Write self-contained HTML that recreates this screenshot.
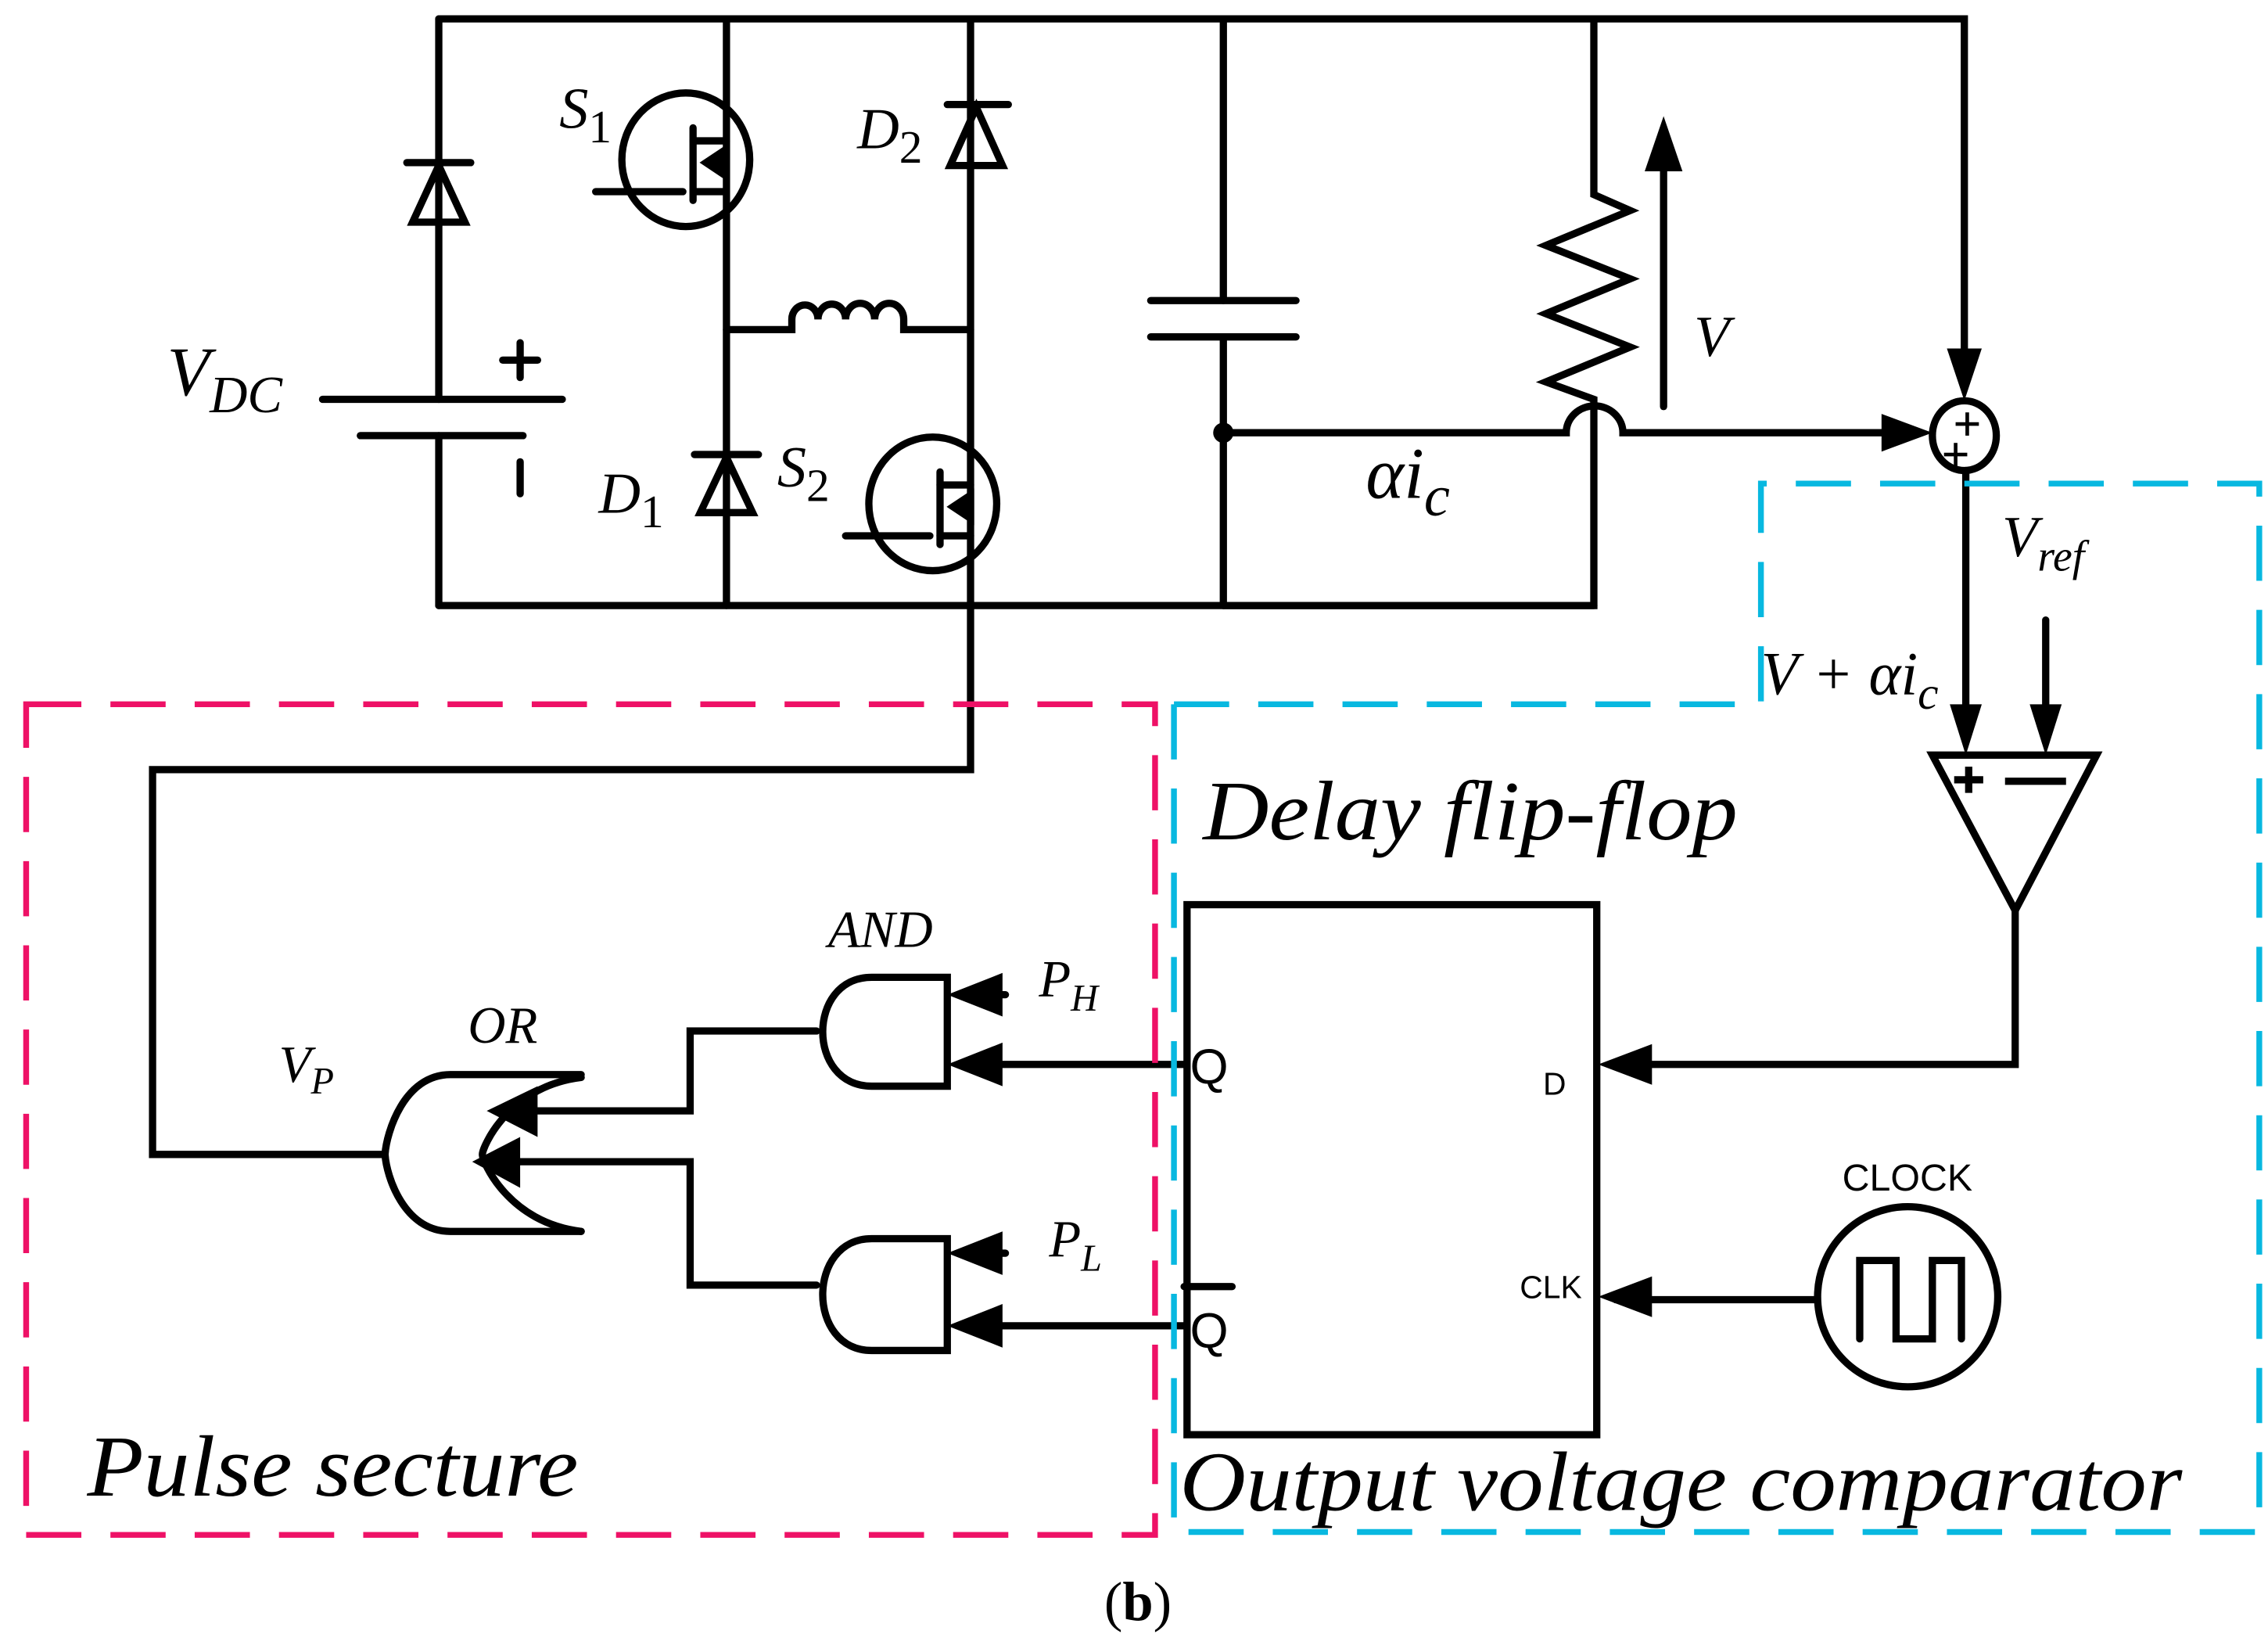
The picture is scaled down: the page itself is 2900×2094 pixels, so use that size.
<!DOCTYPE html>
<html><head><meta charset="utf-8"><style>
html,body{margin:0;padding:0;background:#fff;}
svg{display:block;}
text{font-family:"Liberation Serif",serif;font-style:italic;fill:#000;}
.s{font-family:"Liberation Sans",sans-serif;font-style:normal;}
.n{font-style:normal;}
</style></head><body>
<svg width="2900" height="2094" viewBox="0 0 1561 1128" preserveAspectRatio="none" xmlns="http://www.w3.org/2000/svg">
<g stroke="#000" stroke-width="5" fill="none" stroke-linecap="round" stroke-linejoin="miter">
<polyline points="302,13 1352,13 1352,255"/>
<line x1="302" y1="13" x2="302" y2="275"/>
<line x1="222" y1="275" x2="387" y2="275"/>
<line x1="248" y1="300" x2="360" y2="300"/>
<line x1="302" y1="300" x2="302" y2="417"/>
<line x1="358" y1="318" x2="358" y2="340"/>
<line x1="346" y1="248" x2="370" y2="248"/><line x1="358" y1="236" x2="358" y2="260"/>
<line x1="280" y1="112" x2="324" y2="112"/>
<polygon points="302,114 284,153 320,153"/>
<line x1="302" y1="417" x2="1097" y2="417"/>
<line x1="500" y1="13" x2="500" y2="417"/>
<line x1="478" y1="313" x2="522" y2="313"/>
<polygon points="500,315 482,353 518,353"/>
<ellipse cx="472" cy="110" rx="44" ry="46"/>
<line x1="410" y1="132" x2="470" y2="132"/>
<line x1="477" y1="88" x2="477" y2="138"/>
<line x1="477" y1="97" x2="500" y2="97"/>
<line x1="477" y1="132" x2="500" y2="132"/>
<polygon points="486,112 498,104 498,120" fill="#000"/>
<path d="M500,227 H545 V220 A9,10 0 0 1 563,220 A9,10 0 0 1 582,220 A9,10 0 0 1 602,220 A9,10 0 0 1 622,220 V227 H668"/>
<polyline points="668,13 668,530 105,530 105,795 265,795"/>
<line x1="652" y1="72" x2="694" y2="72"/>
<polygon points="672,74 654,114 690,114"/>
<ellipse cx="642" cy="347" rx="44" ry="46"/>
<line x1="582" y1="369" x2="640" y2="369"/>
<line x1="647" y1="325" x2="647" y2="375"/>
<line x1="647" y1="334" x2="668" y2="334"/>
<line x1="647" y1="369" x2="668" y2="369"/>
<polygon points="656,349 668,341 668,357" fill="#000"/>
<line x1="842" y1="13" x2="842" y2="207"/>
<line x1="792" y1="207" x2="892" y2="207"/>
<line x1="792" y1="232" x2="892" y2="232"/>
<line x1="842" y1="232" x2="842" y2="417"/>
<polyline points="1097,13 1097,134 1122,145 1064,169 1122,192 1064,216 1122,239 1064,263 1097,275 1097,417 842,417"/>
<line x1="1145" y1="280" x2="1145" y2="115"/>
<path d="M842,298 H1078 A19,18 0 0 1 1117,298 H1320"/>
<ellipse cx="1352" cy="300" rx="22" ry="24"/>
<line x1="1353" y1="324" x2="1353" y2="508"/>
<line x1="1408" y1="427" x2="1408" y2="508"/>
<polygon points="1330,520 1443,520 1387,627"/>
<polyline points="1387,627 1387,733 1112,733"/>
<rect x="817" y="623" width="282" height="365"/>
<line x1="815" y1="886" x2="848" y2="886"/>
<line x1="1250" y1="895" x2="1112" y2="895"/>
<circle cx="1313" cy="893" r="62"/>
<polyline points="1280,922 1280,868 1305,868 1305,922 1330,922 1330,868 1350,868 1350,922"/>
<path d="M652,673 H600 C555,673 555,748 600,748 H652 Z"/>
<path d="M652,853 H600 C555,853 555,930 600,930 H652 Z"/>
<line x1="815" y1="733" x2="665" y2="733"/>
<line x1="815" y1="913" x2="665" y2="913"/>
<line x1="692" y1="685" x2="665" y2="685"/>
<line x1="692" y1="863" x2="665" y2="863"/>
<polyline points="562,710 475,710 475,765 350,765"/>
<polyline points="562,885 475,885 475,800 340,800"/>
<path d="M400,740 H310 C278,740 266,780 265,795 C266,810 278,848 310,848 H400"/>
<path d="M400,742 C350,748 332,790 332,795 C332,800 350,842 400,848"/>
</g>
<g fill="#000">
<polygon points="1145,80 1132,118 1158,118"/>
<polygon points="1330,298 1295,285 1295,311"/>
<polygon points="1352,276 1340,240 1364,240"/>
<polygon points="1353,520 1342,485 1364,485"/>
<polygon points="1408,520 1397,485 1419,485"/>
<polygon points="1100,733 1137,719 1137,747"/>
<polygon points="1100,893 1137,879 1137,907"/>
<polygon points="652,685 690,670 690,700"/>
<polygon points="652,733 690,718 690,748"/>
<polygon points="652,863 690,848 690,878"/>
<polygon points="652,913 690,898 690,928"/>
<polygon points="335,765 370,748 370,783"/>
<polygon points="325,800 358,783 358,818"/>
<circle cx="842" cy="298" r="7"/>
</g>
<g stroke="#000" stroke-width="2.5">
<line x1="1346" y1="292" x2="1362" y2="292"/><line x1="1354" y1="284" x2="1354" y2="300"/>
<line x1="1338" y1="313" x2="1354" y2="313"/><line x1="1346" y1="305" x2="1346" y2="321"/>
</g>
<g stroke="#000" stroke-width="5">
<line x1="1345" y1="537" x2="1365" y2="537"/><line x1="1355" y1="528" x2="1355" y2="546"/>
<line x1="1380" y1="538" x2="1422" y2="538"/>
</g>
<rect x="18" y="485" width="777" height="572" fill="none" stroke="#ee1166" stroke-width="4" stroke-dasharray="38,20"/>
<polyline points="808,485 1212,485 1212,333 1555,333 1555,1055 808,1055 808,485" fill="none" stroke="#08b8e0" stroke-width="4" stroke-dasharray="38,20"/>
<text x="115" y="272" font-size="48">V<tspan font-size="36" dy="12">DC</tspan></text>
<text x="385" y="88" font-size="40">S<tspan font-size="32" dy="10" class="n">1</tspan></text>
<text x="590" y="102" font-size="40">D<tspan font-size="32" dy="10" class="n">2</tspan></text>
<text x="412" y="353" font-size="40">D<tspan font-size="32" dy="10" class="n">1</tspan></text>
<text x="535" y="335" font-size="40">S<tspan font-size="32" dy="10" class="n">2</tspan></text>
<text x="1166" y="245" font-size="40">V</text>
<text x="940" y="343" font-size="50">αi<tspan font-size="40" dy="12">c</tspan></text>
<text x="1378" y="383" font-size="40">V<tspan font-size="30" dy="10">ref</tspan></text>
<text x="1212" y="478" font-size="42">V + αi<tspan font-size="32" dy="10">c</tspan></text>
<text x="828" y="578" font-size="58" textLength="368" lengthAdjust="spacingAndGlyphs">Delay flip-flop</text>
<text x="60" y="1030" font-size="60" textLength="338" lengthAdjust="spacingAndGlyphs">Pulse secture</text>
<text x="812" y="1040" font-size="58" textLength="690" lengthAdjust="spacingAndGlyphs">Output voltage comparator</text>
<text x="570" y="652" font-size="36">AND</text>
<text x="322" y="718" font-size="36">OR</text>
<text x="192" y="745" font-size="36">V<tspan font-size="26" dy="8">P</tspan></text>
<text x="715" y="686" font-size="36">P<tspan font-size="26" dy="10">H</tspan></text>
<text x="722" y="865" font-size="36">P<tspan font-size="26" dy="10">L</tspan></text>
<text class="s" x="819" y="746" font-size="34">Q</text>
<text class="s" x="819" y="928" font-size="34">Q</text>
<text class="s" x="1062" y="754" font-size="22">D</text>
<text class="s" x="1046" y="894" font-size="22">CLK</text>
<text class="s" x="1268" y="820" font-size="26">CLOCK</text>
<text x="760" y="1116" font-size="38" class="n" style="font-style:normal">(<tspan font-weight="bold" style="font-style:normal">b</tspan>)</text>
</svg>
</body></html>
